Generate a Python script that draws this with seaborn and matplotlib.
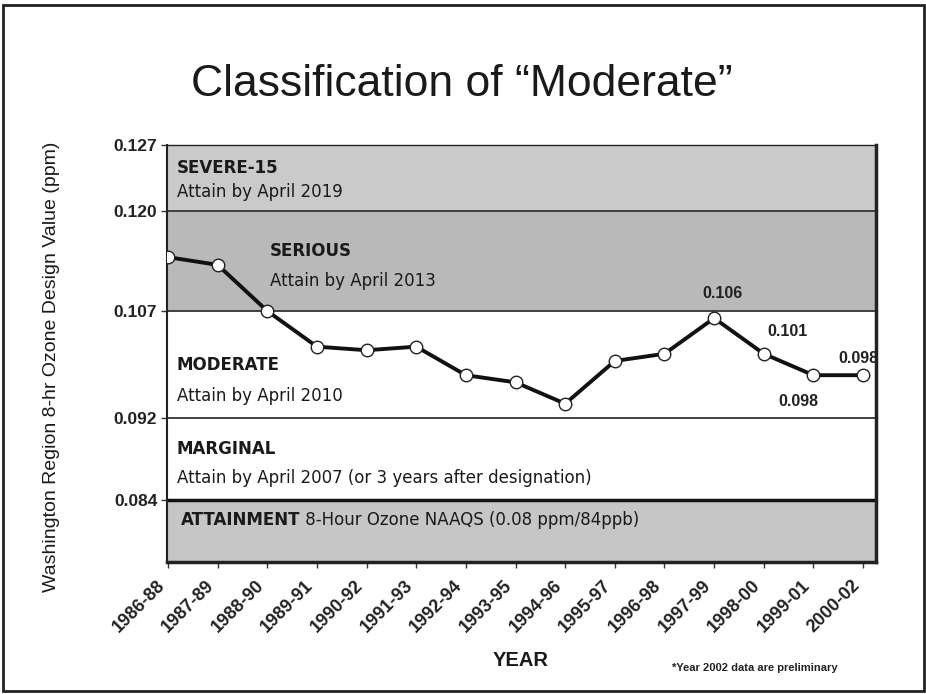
import numpy as np
import matplotlib
matplotlib.use("Agg")
import matplotlib.pyplot as plt
import matplotlib.transforms as mtrans
from matplotlib.patches import Rectangle
import seaborn as sns

# data
periods = ['1986-88', '1987-89', '1988-90', '1989-91', '1990-92', '1991-93',
           '1992-94', '1993-95', '1994-96', '1995-97', '1996-98', '1997-99',
           '1998-00', '1999-01', '2000-02']
values = [0.114, 0.113, 0.107, 0.102, 0.1015, 0.102, 0.098, 0.097, 0.094,
          0.100, 0.101, 0.106, 0.101, 0.098, 0.098]

y_ticks = [0.084, 0.092, 0.107, 0.120, 0.127]
y_tick_labels = ['0.084', '0.092', '0.107', '0.120', '0.127']

# classification bands (low, high)
band_limits = [(0.076, 0.084), (0.084, 0.092), (0.092, 0.107), (0.107, 0.120), (0.120, 0.127)]
band_colors = ['#c6c6c6', 'white', 'white', '#b9b9b9', '#cacaca']

# labelled points: index, text, pixel offset
point_labels = [(11, '0.106', (8, 25)), (12, '0.101', (24, 22)),
                (14, '0.098', (-5, 17)), (13, '0.098', (-15, -26))]

# the original chart's value axis is not linear: piecewise mapping
scale_vals = [0.076, 0.084, 0.092, 0.107, 0.120, 0.127]
scale_pos = [0, 62, 144, 251, 351, 417]


def fwd(v):
    return np.interp(v, scale_vals, scale_pos)


def inv(p):
    return np.interp(p, scale_pos, scale_vals)


sns.set_style("white")
plt.rcParams['font.family'] = ['Liberation Sans', 'DejaVu Sans']

fig = plt.figure(figsize=(9.26, 6.94), dpi=100)
ax = fig.add_axes([167 / 926, 1 - 562 / 694, (876 - 167) / 926, (562 - 145) / 694])
ax.set_yscale('function', functions=(fwd, inv))
ax.set_ylim(0.076, 0.127)
ax.set_xlim(-0.02, 14.26)

for (lo, hi), c in zip(band_limits, band_colors):
    ax.axhspan(lo, hi, facecolor=c, edgecolor='none', zorder=0)
for b in [0.092, 0.107, 0.120]:
    ax.axhline(b, color='#333333', lw=1.3, zorder=1)
ax.axhline(0.084, color='#111111', lw=2.5, zorder=1)

sns.lineplot(x=periods, y=values, ax=ax, color='#111111', lw=2.8, sort=False,
             marker='o', markersize=9, markerfacecolor='white',
             markeredgecolor='#222222', markeredgewidth=1, zorder=3)

for i, txt, (dx, dy) in point_labels:
    ax.annotate(txt, (i, values[i]), xytext=(dx, dy), textcoords='offset pixels',
                ha='center', va='center', fontsize=11.5, fontweight='bold', color='#222222')

band_font = dict(family='DejaVu Sans', color='#1a1a1a', fontsize=12, transform=ax.transAxes)
W, H = 709, 417


def put(px, py, s, **kw):
    return ax.text((px - 167) / W, (562 - py) / H, s, va='center', ha='left', **band_font, **kw)


put(177, 168, 'SEVERE-15', fontweight='bold')
put(177, 192, 'Attain by April 2019')
put(270, 251, 'SERIOUS', fontweight='bold')
put(270, 281, 'Attain by April 2013')
put(177, 365, 'MODERATE', fontweight='bold')
put(177, 396, 'Attain by April 2010')
put(177, 449, 'MARGINAL', fontweight='bold')
put(177, 478, 'Attain by April 2007 (or 3 years after designation)')
t = put(181, 520, 'ATTAINMENT', fontweight='bold')
ax.annotate(' 8-Hour Ozone NAAQS (0.08 ppm/84ppb)', xy=(1, 0.5), xycoords=t,
            va='center', ha='left', family='DejaVu Sans', fontsize=12, color='#1a1a1a')

ax.set_yticks(y_ticks)
ax.set_yticklabels(y_tick_labels, fontsize=12.5, fontweight='bold', color='#222222')
ax.set_xticks(range(len(periods)))
ax.set_xticklabels(periods, rotation=45, ha='right', va='center', rotation_mode='anchor',
                   fontsize=13, fontweight='bold', color='#222222')
ax.tick_params(axis='both', length=4, width=1, color='#333333', direction='out',
               bottom=True, left=True, pad=3)
ax.tick_params(axis='x', pad=11)
shift = mtrans.ScaledTranslation(-6 / 100, 0, fig.dpi_scale_trans)
for lab in ax.get_xticklabels():
    lab.set_transform(lab.get_transform() + shift)

for side in ['left', 'right', 'bottom', 'top']:
    ax.spines[side].set_color('#222222')
ax.spines['left'].set_linewidth(1.5)
ax.spines['right'].set_linewidth(2.5)
ax.spines['bottom'].set_linewidth(2.5)
ax.spines['top'].set_linewidth(1)

ax.set_xlabel('')
ax.set_ylabel('Washington Region 8-hr Ozone Design Value (ppm)', fontsize=14,
              color='#1a1a1a', labelpad=0)
ax.yaxis.set_label_coords(-(167 - 60) / W, (562 - 367) / H)

fig.text(462 / 926, 1 - 85 / 694, 'Classification of \u201cModerate\u201d',
         ha='center', va='center', fontsize=32, color='#1a1a1a')
fig.text(521 / 926, 1 - 661 / 694, 'YEAR', ha='center', va='center',
         fontsize=14.5, fontweight='bold', color='#1a1a1a')
fig.text(755 / 926, 1 - 668 / 694, '*Year 2002 data are preliminary', ha='center',
         va='center', fontsize=8, fontweight='bold', color='#222222')

fig.patches.append(Rectangle((3 / 926, 3 / 694), 921 / 926, 686 / 694, transform=fig.transFigure,
                             fill=False, edgecolor='#222222', lw=2))

fig.savefig('out.png', dpi=100)
